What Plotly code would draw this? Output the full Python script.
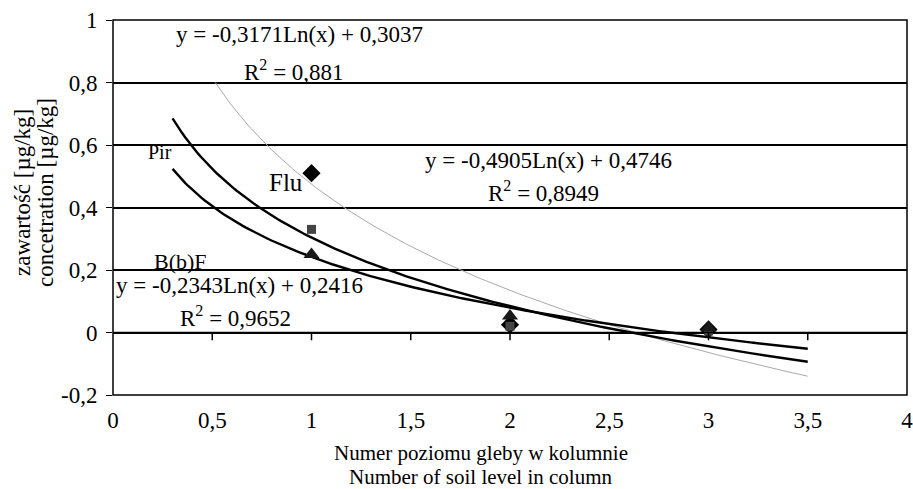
import numpy as np
import plotly.graph_objects as go

# Data
levels = [1, 2, 3]
flu_vals = [0.51, 0.025, 0.01]
pir_vals = [0.33, 0.02, 0.005]
bbf_vals = [0.25, 0.053, 0.015]

# Trendline coefficients (y = a*Ln(x) + b) as printed on the chart
flu_coef = [-0.4905, 0.4746]
pir_coef = [-0.3171, 0.3037]
bbf_coef = [-0.2343, 0.2416]
flu_range = [0.515, 3.5]
pir_range = [0.3, 3.5]
bbf_range = [0.3, 3.5]

x_ticks = [0, 0.5, 1, 1.5, 2, 2.5, 3, 3.5, 4]
x_ticktext = ["0", "0,5", "1", "1,5", "2", "2,5", "3", "3,5", "4"]
y_ticks = [-0.2, 0, 0.2, 0.4, 0.6, 0.8, 1]
y_ticktext = ["-0,2", "0", "0,2", "0,4", "0,6", "0,8", "1"]

FONT = "Liberation Serif"


def trend(coef, rng):
    xs = np.linspace(rng[0], rng[1], 200)
    return xs, coef[0] * np.log(xs) + coef[1]


fig = go.Figure()

fx, fy = trend(flu_coef, flu_range)
fig.add_trace(go.Scatter(x=fx, y=fy, mode="lines", line=dict(color="#aaaaaa", width=1), showlegend=False))
px_, py_ = trend(pir_coef, pir_range)
fig.add_trace(go.Scatter(x=px_, y=py_, mode="lines", line=dict(color="black", width=2.4), showlegend=False))
bx, by = trend(bbf_coef, bbf_range)
fig.add_trace(go.Scatter(x=bx, y=by, mode="lines", line=dict(color="black", width=2.4), showlegend=False))

fig.add_trace(go.Scatter(x=levels, y=flu_vals, mode="markers",
                         marker=dict(symbol="diamond", size=14, color="black"), showlegend=False))
fig.add_trace(go.Scatter(x=levels, y=pir_vals, mode="markers",
                         marker=dict(symbol="square", size=9, color="#444444"), showlegend=False))
fig.add_trace(go.Scatter(x=levels, y=bbf_vals, mode="markers",
                         marker=dict(symbol="triangle-up", size=14, color="#1a1a1a"), showlegend=False))

# tick marks on the zero line (Excel style axis crossing)
shapes = []
for xt in x_ticks[1:-1]:
    shapes.append(dict(type="line", xref="x", yref="y", x0=xt, x1=xt, y0=0, y1=-0.025,
                       line=dict(color="black", width=1.5)))
shapes.append(dict(type="line", xref="paper", yref="y", x0=0, x1=1, y0=0, y1=0,
                   line=dict(color="black", width=1.5)))
# plot-area border
shapes.append(dict(type="rect", xref="paper", yref="paper", x0=0, x1=1, y0=0, y1=1,
                   line=dict(color="black", width=1.5)))

ann_font = dict(family=FONT, size=23, color="black")
annotations = [
    dict(x=0.942, y=0.954, text="y = -0,3171Ln(x) + 0,3037"),
    dict(x=0.912, y=0.84, text="R<sup>2</sup> = 0,881"),
    dict(x=2.196, y=0.549, text="y = -0,4905Ln(x) + 0,4746"),
    dict(x=2.171, y=0.45, text="R<sup>2</sup> = 0,8949"),
    dict(x=0.635, y=0.152, text="y = -0,2343Ln(x) + 0,2416"),
    dict(x=0.617, y=0.05, text="R<sup>2</sup> = 0,9652"),
]
annotations = [dict(a, xref="x", yref="y", showarrow=False, font=ann_font,
                    xanchor="center", yanchor="middle") for a in annotations]
annotations += [
    dict(x=0.237, y=0.577, text="Pir", xref="x", yref="y", showarrow=False,
         font=dict(family=FONT, size=20, color="black")),
    dict(x=0.874, y=0.479, text="Flu", xref="x", yref="y", showarrow=False,
         font=dict(family=FONT, size=25, color="black")),
    dict(x=0.338, y=0.226, text="B(b)F", xref="x", yref="y", showarrow=False,
         font=dict(family=FONT, size=22, color="black")),
    # x-axis title (two lines)
    dict(x=0.463, y=-0.155, xref="paper", yref="paper", showarrow=False,
         xanchor="center", yanchor="middle",
         text="Numer poziomu gleby w kolumnie", font=dict(family=FONT, size=21, color="black")),
    dict(x=0.463, y=-0.219, xref="paper", yref="paper", showarrow=False,
         xanchor="center", yanchor="middle",
         text="Number of soil level in column", font=dict(family=FONT, size=21, color="black")),
    # y-axis title (two lines)
    dict(x=0, y=0.539, xref="paper", yref="paper", xshift=-90, showarrow=False, textangle=-90,
         xanchor="center", yanchor="middle",
         text="zawartość [µg/kg]", font=dict(family=FONT, size=23, color="black")),
    dict(x=0, y=0.539, xref="paper", yref="paper", xshift=-67, showarrow=False, textangle=-90,
         xanchor="center", yanchor="middle",
         text="concetration [µg/kg]", font=dict(family=FONT, size=23, color="black")),
]

fig.update_layout(
    width=913, height=489,
    margin=dict(l=113, r=6, t=20, b=94),
    paper_bgcolor="white", plot_bgcolor="white",
    font=dict(family=FONT, color="black", size=23),
    shapes=shapes,
    annotations=annotations,
    xaxis=dict(range=[0, 4], tickvals=x_ticks, ticktext=x_ticktext, showgrid=False,
               zeroline=False, showline=False, ticks="outside", ticklen=4,
               tickcolor="rgba(0,0,0,0)", automargin=False, ticklabeloverflow="allow",
               tickfont=dict(family=FONT, size=23)),
    yaxis=dict(range=[-0.2, 1], tickvals=y_ticks, ticktext=y_ticktext, showgrid=True,
               gridcolor="black", gridwidth=1.5, zeroline=False, showline=False,
               ticks="outside", ticklen=6, automargin=False, ticklabelstandoff=4,
               tickcolor="black", tickfont=dict(family=FONT, size=23)),
)

fig.write_html(
    "out.html",
    config={"displayModeBar": False},
    post_script="document.body.style.margin='0';document.body.style.overflow='hidden';",
)
